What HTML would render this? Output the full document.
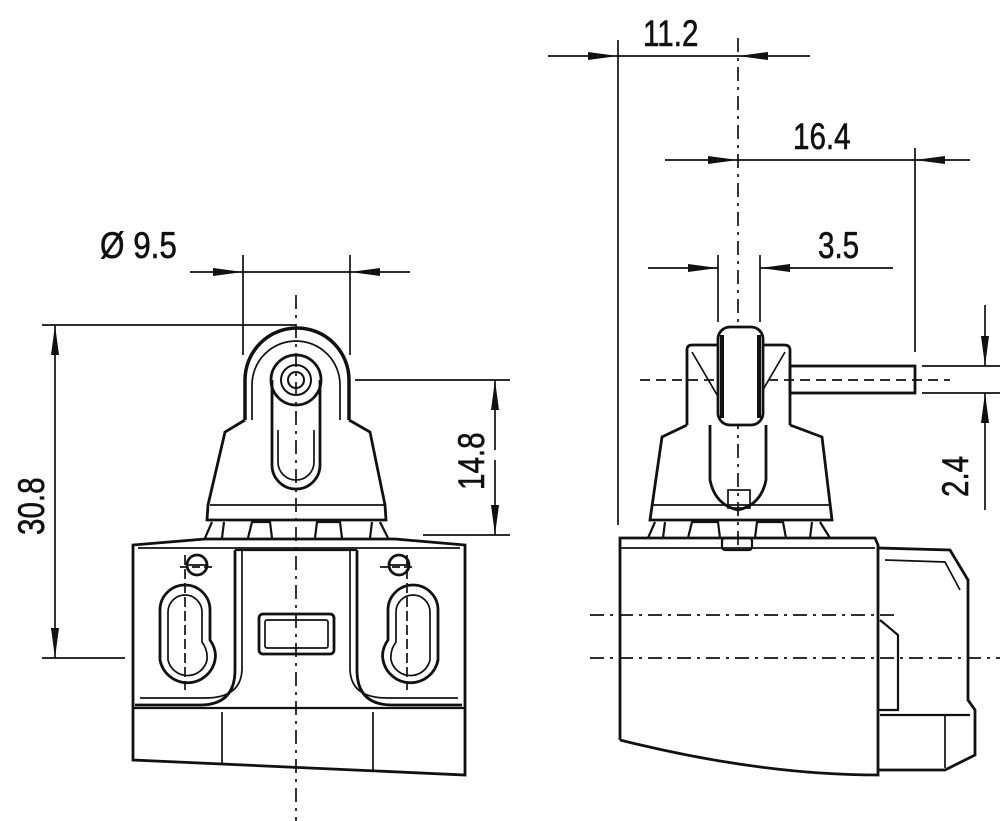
<!DOCTYPE html>
<html><head><meta charset="utf-8"><style>html,body{margin:0;padding:0;background:#fff}svg{display:block}text{font-family:"Liberation Sans",sans-serif;font-size:37px;fill:#111;stroke:#111;stroke-width:0.6}</style></head><body>
<svg width="1000" height="821" viewBox="0 0 1000 821" xmlns="http://www.w3.org/2000/svg">
<defs>
<marker id="a" viewBox="0 0 30 10" refX="30" refY="5" markerWidth="30" markerHeight="10" markerUnits="userSpaceOnUse" orient="auto"><path d="M0,1 L30,5 L0,9 Z" fill="#111"/></marker>
</defs>
<g stroke="#111" fill="none" stroke-width="1.7">
<!-- ===== LEFT VIEW ===== -->
<line x1="296" y1="295" x2="296" y2="821" stroke-dasharray="14,6,3,6"/>
<line x1="180" y1="567" x2="215" y2="567" stroke-dasharray="8,4"/>
<line x1="380" y1="567" x2="415" y2="567" stroke-dasharray="8,4"/>
<line x1="185" y1="555" x2="185" y2="690" stroke-dasharray="10,4"/>
<line x1="407" y1="555" x2="407" y2="690" stroke-dasharray="10,4"/>
<path d="M245,420 L245,380 A51,51 0 0 1 349,380 L349,420" stroke-width="3.5"/>
<path d="M252,420 L252,385 A44,44 0 0 1 340,385 L340,420"/>
<circle cx="296" cy="380" r="25" stroke-width="2.8"/>
<circle cx="296" cy="380" r="15" stroke-width="2"/>
<circle cx="296" cy="380" r="8" stroke-width="2"/>
<path d="M272,380 L272,465 A24,24 0 0 0 320,465 L320,380" stroke-width="2.8"/>
<path d="M278,430 L278,462 A18,18 0 0 0 314,462 L314,430"/>
<path d="M245,420 L225,432 L208,505 L207,520 L386,520 L385,505 L370,432 L349,420" stroke-width="2.8"/>
<line x1="210" y1="505" x2="384" y2="505"/>
<path d="M205,538 L212,522 M224,522 L222,538 M248,538 L252,522 L270,522 L272,538 M315,538 L317,522 L340,522 L342,538 M372,522 L370,538 M380,522 L388,538" stroke-width="2.2"/>
<path d="M133,760 L133,545 L205,539 L395,539 L465,545 L465,775 Z" stroke-width="2.8"/>
<line x1="138" y1="548" x2="460" y2="548"/>
<line x1="133" y1="708" x2="465" y2="708" stroke-width="2.2"/>
<line x1="222" y1="712" x2="222" y2="765"/>
<line x1="373" y1="712" x2="373" y2="770"/>
<path d="M235,550 L235,670 Q235,705 200,705 L135,705" stroke-width="2.8"/>
<path d="M357,550 L357,670 Q357,705 392,705 L462,705" stroke-width="2.8"/>
<path d="M242,550 L242,668 Q242,698 205,698 L140,698"/>
<path d="M350,550 L350,668 Q350,698 387,698 L458,698"/>
<line x1="235" y1="550" x2="357" y2="550" stroke-width="2.2"/>
<circle cx="197" cy="565" r="10" stroke-width="2.8"/><line x1="187" y1="565" x2="207" y2="565"/>
<circle cx="399" cy="565" r="10" stroke-width="2.8"/><line x1="389" y1="565" x2="409" y2="565"/>
<path d="M160,610 A25,25 0 0 1 210,610 L210,640 Q217,650 215,660 A28,28 0 0 1 160,660 Z" stroke-width="2.8"/>
<path d="M388,610 A25,25 0 0 1 438,610 L438,660 A28,28 0 0 1 383,660 Q381,650 388,640 Z" stroke-width="2.8"/>
<path d="M168,612 A17,17 0 0 1 202,612 L202,642 Q208,650 207,660 A20,20 0 0 1 168,660 Z"/>
<path d="M396,612 A17,17 0 0 1 430,612 L430,660 A20,20 0 0 1 391,660 Q390,650 396,642 Z"/>
<rect x="259" y="614" width="75" height="40" rx="4" stroke-width="2.8"/>
<rect x="265" y="620" width="63" height="28" rx="2"/>
<line x1="42" y1="325" x2="296" y2="325"/>
<line x1="42" y1="658" x2="125" y2="658"/>
<line x1="55" y1="430" x2="55" y2="325" marker-end="url(#a)"/>
<line x1="55" y1="560" x2="55" y2="658" marker-end="url(#a)"/>
<line x1="55" y1="430" x2="55" y2="560"/>
<line x1="355" y1="380" x2="510" y2="380"/>
<line x1="423" y1="535" x2="510" y2="535"/>
<line x1="495" y1="450" x2="495" y2="380" marker-end="url(#a)"/>
<line x1="495" y1="460" x2="495" y2="535" marker-end="url(#a)"/>
<line x1="243" y1="255" x2="243" y2="355"/>
<line x1="350" y1="255" x2="350" y2="355"/>
<line x1="190" y1="272" x2="243" y2="272" marker-end="url(#a)"/>
<line x1="410" y1="272" x2="350" y2="272" marker-end="url(#a)"/>
<line x1="243" y1="272" x2="350" y2="272"/>
<!-- ===== RIGHT VIEW ===== -->
<line x1="738" y1="38" x2="738" y2="545" stroke-dasharray="14,6,3,6"/>
<line x1="640" y1="380" x2="950" y2="380" stroke-dasharray="10,6"/>
<line x1="590" y1="615" x2="900" y2="615" stroke-dasharray="14,6,3,6"/>
<line x1="590" y1="658" x2="1000" y2="658" stroke-dasharray="14,6,3,6"/>
<path d="M687,425 L687,350 Q687,345 692,345 L784,345 Q790,345 790,350 L790,425" stroke-width="2.8"/>
<path d="M692,352 L720,400 M785,352 L757,400"/>
<rect x="718" y="327" width="45" height="98" rx="12" fill="#fff" stroke-width="2.8"/>
<line x1="722" y1="335" x2="722" y2="418" stroke-width="4"/>
<line x1="759" y1="335" x2="759" y2="418" stroke-width="4"/>
<rect x="790" y="366" width="125" height="27" stroke-width="2.8"/>
<path d="M687,425 L662,437 L650,520 L832,520 L822,437 L790,425" stroke-width="2.8"/>
<line x1="652" y1="505" x2="830" y2="505"/>
<path d="M710,425 L710,480 Q715,505 738,510 Q761,505 766,480 L766,425" stroke-width="2.8"/>
<rect x="728" y="490" width="22" height="18"/>
<path d="M648,538 L655,522 M665,522 L663,538 M688,538 L692,522 L718,522 L720,538 M755,538 L757,522 L783,522 L786,538 M812,522 L810,538 M820,522 L830,538" stroke-width="2.2"/>
<path d="M620,740 L620,538 L875,538 L878,545 L878,775 Q760,775 620,740" stroke-width="2.8"/>
<line x1="620" y1="548" x2="875" y2="548"/>
<rect x="722" y="538" width="30" height="12" rx="3" stroke-width="2.2"/>
<path d="M878,548 L950,550 L968,580 L968,700 L975,710 L975,755 L945,770 L878,770" stroke-width="2.8"/>
<path d="M885,560 L945,562 L960,590"/>
<path d="M880,620 L898,635 L898,710 L878,710" stroke-width="2.2"/>
<line x1="880" y1="715" x2="970" y2="715" stroke-width="2.2"/>
<line x1="945" y1="715" x2="945" y2="768"/>
<line x1="618" y1="40" x2="618" y2="525"/>
<line x1="548" y1="56" x2="618" y2="56" marker-end="url(#a)"/>
<line x1="810" y1="56" x2="738" y2="56" marker-end="url(#a)"/>
<line x1="618" y1="56" x2="738" y2="56"/>
<line x1="915" y1="148" x2="915" y2="352"/>
<line x1="665" y1="160" x2="738" y2="160" marker-end="url(#a)"/>
<line x1="970" y1="160" x2="915" y2="160" marker-end="url(#a)"/>
<line x1="738" y1="160" x2="915" y2="160"/>
<line x1="718" y1="255" x2="718" y2="322"/>
<line x1="760" y1="255" x2="760" y2="322"/>
<line x1="648" y1="268" x2="718" y2="268" marker-end="url(#a)"/>
<line x1="830" y1="268" x2="760" y2="268" marker-end="url(#a)"/>
<line x1="830" y1="268" x2="893" y2="268"/>
<line x1="922" y1="366" x2="1000" y2="366"/>
<line x1="922" y1="393" x2="1000" y2="393"/>
<line x1="985" y1="305" x2="985" y2="366" marker-end="url(#a)"/>
<line x1="985" y1="510" x2="985" y2="393" marker-end="url(#a)"/>
</g>
<g>
<text transform="translate(100,258) scale(0.85,1)">Ø 9.5</text>
<text transform="translate(44,535) rotate(-90) scale(0.8,1)">30.8</text>
<text transform="translate(484,490) rotate(-90) scale(0.8,1)">14.8</text>
<text transform="translate(643,46) scale(0.8,1)">11.2</text>
<text transform="translate(793,149) scale(0.8,1)">16.4</text>
<text transform="translate(818,258) scale(0.8,1)">3.5</text>
<text transform="translate(968,497) rotate(-90) scale(0.8,1)">2.4</text>
</g>
</svg>
</body></html>
